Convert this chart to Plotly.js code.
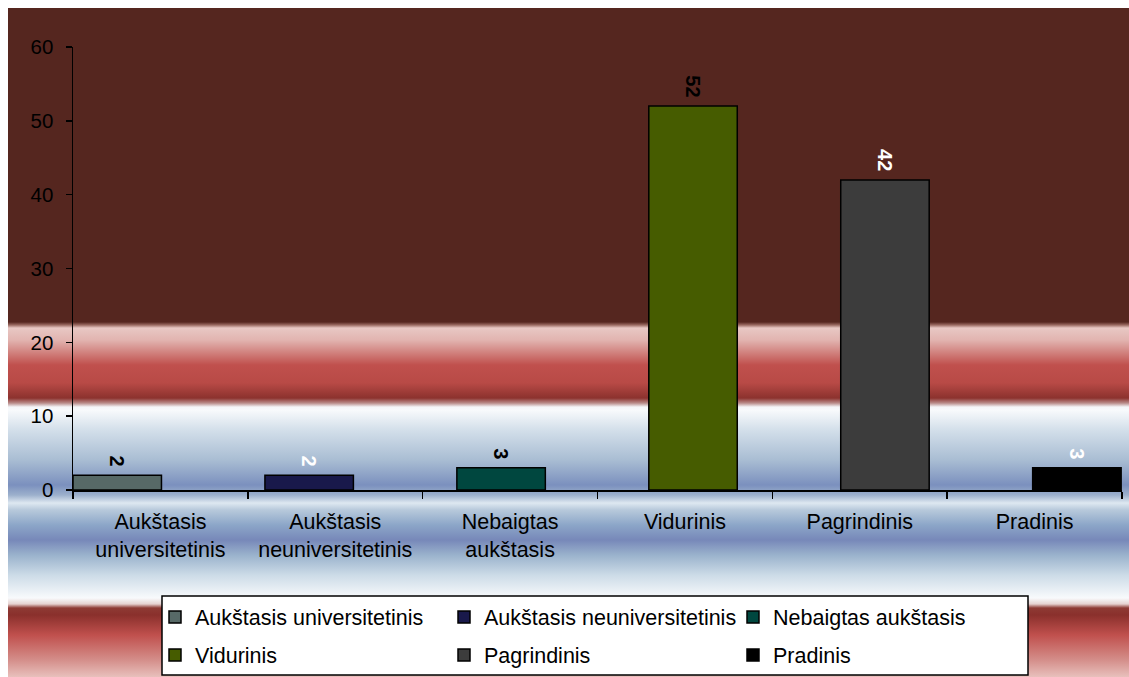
<!DOCTYPE html>
<html><head><meta charset="utf-8">
<script src="https://cdn.plot.ly/plotly-3.0.1.min.js"></script>
<style>
html,body{margin:0;padding:0;background:#fff;}
#wrap{position:relative;width:1129px;height:677px;background:#fff;overflow:hidden}
#bg{position:absolute;left:8px;top:8px;width:1121px;height:669px;
background:linear-gradient(to bottom,
#55261F 0px,#55261F 314px,#9a6a62 317px,#E8C8C4 320px,#E2B4B0 332px,#C0504D 357px,#B84A46 375px,#8C322E 390px,#B88A88 395px,#F4F6F9 399px,#F8FAFC 402px,
#D3DFEA 422px,#A9BDD3 452px,#7B90BE 477px,#9CB0CC 487px,#DEE8F1 495px,#B7C9DB 502px,#8CA6C8 517px,#7788B9 532px,#9AB2CC 547px,#CCDBE7 567px,#F8FAFC 590px,
#E6D2D0 596px,#8E3A34 600px,#8A302C 607px,#C0504D 627px,#D48E8A 652px,#E8C0BC 669px);}
#chart{position:absolute;left:0;top:0;width:1129px;height:677px}
</style></head>
<body><div id="wrap"><div id="bg"></div><div id="chart"></div></div>
<script>
const categories = ["Aukštasis<br>universitetinis","Aukštasis<br>neuniversitetinis","Nebaigtas<br>aukštasis","Vidurinis","Pagrindinis","Pradinis"];
const seriesNames = ["Aukštasis universitetinis","Aukštasis neuniversitetinis","Nebaigtas aukštasis","Vidurinis","Pagrindinis","Pradinis"];
const values = [2, 2, 3, 52, 42, 3];
const yTicks = [0, 10, 20, 30, 40, 50, 60];

const barColors = ["#576967","#19194B","#00473F","#465C00","#3C3C3C","#000000"];
const labelColors = ["#000000","#ffffff","#000000","#000000","#ffffff","#ffffff"];
const FONT = "Liberation Sans, Arial, sans-serif";

const traces = seriesNames.map((name, i) => ({
  type: 'bar',
  name: name,
  x: [categories[i]],
  y: [values[i]],
  width: 0.506,
  offset: -0.5 + i * 0.0978,
  marker: {color: barColors[i], line: {color: '#000000', width: 1.5}},
  text: [String(values[i]) + '\u00a0'],
  textposition: 'outside',
  textangle: 90,
  constraintext: 'none',
  cliponaxis: false,
  textfont: {family: FONT, size: 20, color: labelColors[i], weight: 'bold'},
  legend: i < 3 ? 'legend' : 'legend2',
  hoverinfo: 'skip'
}));

const L = 73, R = 1122, T = 47, B = 490;
const px = X => (X - L) / (R - L);
const py = Y => (B - Y) / (B - T);

const layout = {
  width: 1129, height: 677,
  margin: {l: L, r: 1129 - R, t: T, b: 677 - B, autoexpand: false},
  paper_bgcolor: 'rgba(0,0,0,0)',
  plot_bgcolor: 'rgba(0,0,0,0)',
  barmode: 'overlay',
  showlegend: true,
  font: {family: FONT, size: 21.5, color: '#000'},
  xaxis: {
    type: 'category', categoryorder: 'array', categoryarray: categories,
    range: [-0.5, 5.5], tickson: 'boundaries', ticks: 'outside', ticklen: 7,
    tickwidth: 1.5, tickcolor: '#000', showline: true, linecolor: '#000', linewidth: 1.5,
    showgrid: false, zeroline: false, tickfont: {family: FONT, size: 21.5, color: '#000'},
    ticklabelstandoff: 12, fixedrange: true, automargin: false
  },
  yaxis: {
    range: [0, 60], tickvals: yTicks, ticktext: yTicks.map(String), ticks: 'outside', ticklen: 6,
    tickwidth: 1.5, tickcolor: '#000', showline: true, linecolor: '#000', linewidth: 1.5,
    showgrid: false, zeroline: false, tickfont: {family: FONT, size: 20.5, color: '#000'},
    ticklabelstandoff: 8, fixedrange: true, automargin: false
  },
  legend: {
    orientation: 'h', x: px(155), xanchor: 'left', y: py(617), yanchor: 'middle',
    entrywidth: 244, entrywidthmode: 'pixels', bgcolor: 'rgba(0,0,0,0)', borderwidth: 0,
    font: {family: FONT, size: 21.5, color: '#000'}
  },
  legend2: {
    orientation: 'h', x: px(155), xanchor: 'left', y: py(655), yanchor: 'middle',
    entrywidth: 244, entrywidthmode: 'pixels', bgcolor: 'rgba(0,0,0,0)', borderwidth: 0,
    font: {family: FONT, size: 21.5, color: '#000'}
  },
  shapes: [{
    type: 'rect', xref: 'paper', yref: 'paper', layer: 'above',
    x0: px(162), x1: px(1028), y0: py(675), y1: py(596),
    fillcolor: '#ffffff', line: {color: '#000000', width: 1.5}
  }]
};

Plotly.newPlot('chart', traces, layout, {displayModeBar: false, staticPlot: true});
</script>
</body></html>
